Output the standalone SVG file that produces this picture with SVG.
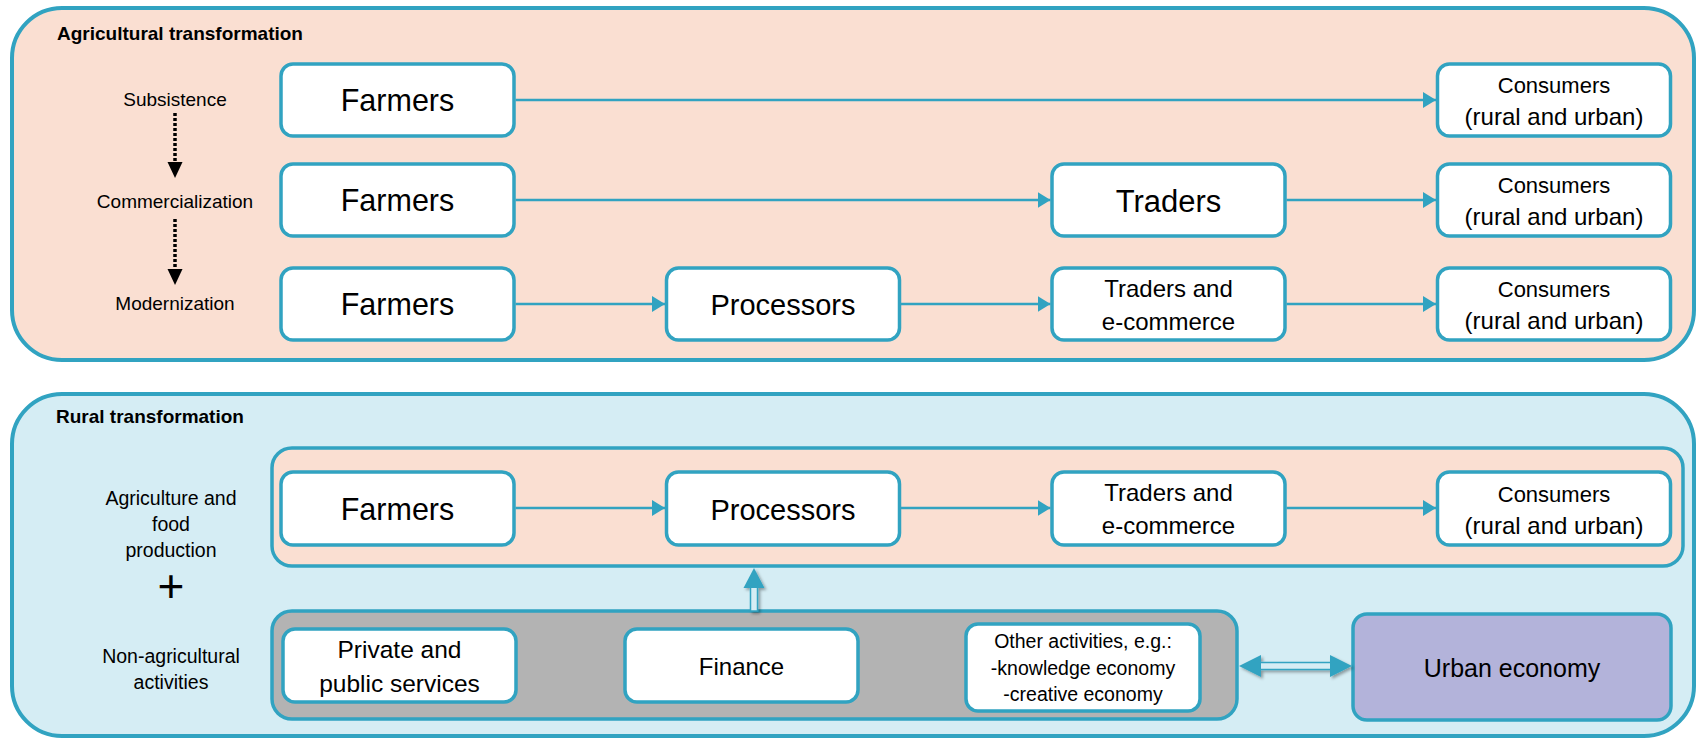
<svg xmlns="http://www.w3.org/2000/svg" width="1698" height="739" viewBox="0 0 1698 739">
<style>
  .outer { stroke: #31A3C1; stroke-width: 4; }
  .box { fill: #FFFFFF; stroke: #31A3C1; stroke-width: 3.5; }
  .conn { fill: none; stroke: #31A3C1; stroke-width: 2.5; }
  .t { font-family: "Liberation Sans", Arial, sans-serif; fill: #000; text-anchor: middle; }
  .title { font-family: "Liberation Sans", Arial, sans-serif; font-weight: bold; font-size: 19px; fill: #000; }
  .farm { font-size: 30.5px; }
  .proc { font-size: 29px; }
  .trad { font-size: 31px; }
  .mid { font-size: 24px; }
  .cons { font-size: 22px; }
  .rur { font-size: 24px; }
  .lab { font-size: 19px; }
  .lab2 { font-size: 19.5px; }
  .sm { font-size: 19.5px; }
</style>
<defs>
  <marker id="ah" viewBox="0 0 13 16" refX="13" refY="8" markerWidth="13" markerHeight="16" markerUnits="userSpaceOnUse" orient="auto">
    <path d="M0,0 L13,8 L0,16 z" fill="#31A3C1"/>
  </marker>
  <filter id="sh" x="-30%" y="-30%" width="160%" height="160%">
    <feDropShadow dx="2" dy="2" stdDeviation="1.5" flood-color="#000" flood-opacity="0.35"/>
  </filter>
</defs>

<!-- Agricultural transformation panel -->
<g id="agri-panel">
  <rect class="outer" x="12" y="8" width="1682" height="352" rx="50" fill="#FADFD2"/>
  <text class="title" x="57" y="40">Agricultural transformation</text>
  <text class="t lab" x="175" y="106">Subsistence</text>
  <text class="t lab" x="175" y="208">Commercialization</text>
  <text class="t lab" x="175" y="310">Modernization</text>
  <line x1="175" y1="113" x2="175" y2="163" stroke="#000" stroke-width="3.5" stroke-dasharray="3 2"/>
  <polygon points="167.5,162 182.5,162 175,178" fill="#000"/>
  <line x1="175" y1="219" x2="175" y2="269" stroke="#000" stroke-width="3.5" stroke-dasharray="3 2"/>
  <polygon points="167.5,269 182.5,269 175,285" fill="#000"/>
</g>

<!-- Rural transformation panel -->
<g id="rural-panel">
  <rect class="outer" x="12" y="394" width="1682" height="342" rx="50" fill="#D5EDF4"/>
  <text class="title" x="56" y="423">Rural transformation</text>
  <text class="t lab2" x="171" y="505">Agriculture and</text>
  <text class="t lab2" x="171" y="531">food</text>
  <text class="t lab2" x="171" y="557">production</text>
  <text class="t" x="171" y="602" font-size="46px">+</text>
  <text class="t lab2" x="171" y="663">Non-agricultural</text>
  <text class="t lab2" x="171" y="689">activities</text>
  <rect x="272" y="448" width="1411" height="118" rx="20" fill="#FADFD2" stroke="#31A3C1" stroke-width="3.5"/>
  <rect x="272" y="611" width="965" height="108" rx="20" fill="#B3B3B3" stroke="#31A3C1" stroke-width="3.5"/>
</g>

<!-- Row 1 -->
<g id="r1-farmers"><rect class="box" x="281" y="64" width="233" height="72" rx="12"/><text class="t farm" x="397.5" y="111">Farmers</text></g>
<g id="r1-consumers"><rect class="box" x="1437.5" y="64" width="233" height="72" rx="12"/><text class="t cons" x="1554" y="93">Consumers</text><text class="t rur" x="1554" y="125">(rural and urban)</text></g>

<!-- Row 2 -->
<g id="r2-farmers"><rect class="box" x="281" y="164" width="233" height="72" rx="12"/><text class="t farm" x="397.5" y="211">Farmers</text></g>
<g id="r2-traders"><rect class="box" x="1052" y="164" width="233" height="72" rx="12"/><text class="t trad" x="1168.5" y="211.5">Traders</text></g>
<g id="r2-consumers"><rect class="box" x="1437.5" y="164" width="233" height="72" rx="12"/><text class="t cons" x="1554" y="193">Consumers</text><text class="t rur" x="1554" y="225">(rural and urban)</text></g>

<!-- Row 3 -->
<g id="r3-farmers"><rect class="box" x="281" y="268" width="233" height="72" rx="12"/><text class="t farm" x="397.5" y="315">Farmers</text></g>
<g id="r3-processors"><rect class="box" x="666.5" y="268" width="233" height="72" rx="12"/><text class="t proc" x="783" y="315">Processors</text></g>
<g id="r3-traders"><rect class="box" x="1052" y="268" width="233" height="72" rx="12"/><text class="t mid" x="1168.5" y="297">Traders and</text><text class="t mid" x="1168.5" y="330">e-commerce</text></g>
<g id="r3-consumers"><rect class="box" x="1437.5" y="268" width="233" height="72" rx="12"/><text class="t cons" x="1554" y="297">Consumers</text><text class="t rur" x="1554" y="329">(rural and urban)</text></g>

<!-- Rural row -->
<g id="r4-farmers"><rect class="box" x="281" y="472" width="233" height="73" rx="12"/><text class="t farm" x="397.5" y="520">Farmers</text></g>
<g id="r4-processors"><rect class="box" x="666.5" y="472" width="233" height="73" rx="12"/><text class="t proc" x="783" y="520">Processors</text></g>
<g id="r4-traders"><rect class="box" x="1052" y="472" width="233" height="73" rx="12"/><text class="t mid" x="1168.5" y="501">Traders and</text><text class="t mid" x="1168.5" y="534">e-commerce</text></g>
<g id="r4-consumers"><rect class="box" x="1437.5" y="472" width="233" height="73" rx="12"/><text class="t cons" x="1554" y="502">Consumers</text><text class="t rur" x="1554" y="534">(rural and urban)</text></g>

<!-- Non-agricultural -->
<g id="services"><rect class="box" x="283" y="629" width="233" height="73" rx="12"/><text class="t" font-size="24.5px" x="399.5" y="658">Private and</text><text class="t" font-size="24.5px" x="399.5" y="692">public services</text></g>
<g id="finance"><rect class="box" x="625" y="629" width="233" height="73" rx="12"/><text class="t" font-size="24px" x="741.5" y="675">Finance</text></g>
<g id="other"><rect class="box" x="966" y="624" width="234" height="87" rx="12"/><text class="t sm" x="1083" y="648">Other activities, e.g.:</text><text class="t sm" x="1083" y="675">-knowledge economy</text><text class="t sm" x="1083" y="701">-creative economy</text></g>
<g id="urban"><rect x="1353" y="614" width="318" height="106" rx="14" fill="#B3B3DA" stroke="#31A3C1" stroke-width="3.5"/><text class="t" font-size="25px" x="1512" y="677">Urban economy</text></g>

<!-- Connectors -->
<g id="connectors">
  <path class="conn" d="M515.5 100 H1436" marker-end="url(#ah)"/>
  <path class="conn" d="M515.5 200 H1050.5" marker-end="url(#ah)"/>
  <path class="conn" d="M1286.5 200 H1436" marker-end="url(#ah)"/>
  <path class="conn" d="M515.5 304 H665" marker-end="url(#ah)"/>
  <path class="conn" d="M901 304 H1050.5" marker-end="url(#ah)"/>
  <path class="conn" d="M1286.5 304 H1436" marker-end="url(#ah)"/>
  <path class="conn" d="M515.5 508 H665" marker-end="url(#ah)"/>
  <path class="conn" d="M901 508 H1050.5" marker-end="url(#ah)"/>
  <path class="conn" d="M1286.5 508 H1436" marker-end="url(#ah)"/>
  <g filter="url(#sh)">
    <rect x="750.5" y="586" width="7" height="25" fill="#D5EDF4" stroke="#31A3C1" stroke-width="1.5"/>
    <polygon points="743.5,588 764.5,588 754,568" fill="#31A3C1"/>
  </g>
  <g filter="url(#sh)">
    <rect x="1259" y="662.5" width="72" height="7" fill="#D5EDF4" stroke="#31A3C1" stroke-width="1.5"/>
    <polygon points="1239,666 1261,655 1261,677" fill="#31A3C1"/>
    <polygon points="1352,666 1330,655 1330,677" fill="#31A3C1"/>
  </g>
</g>
</svg>
